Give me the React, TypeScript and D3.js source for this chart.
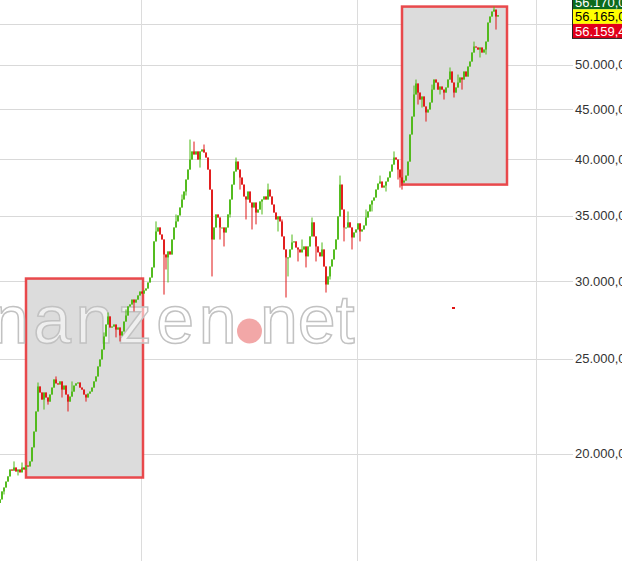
import React from "react";
import * as d3 from "d3";

// Daily closes, oldest first
const closes = [
  17950, 18290, 18460, 18720, 18950, 19260, 19210, 19350, 19170, 19260,
  19130, 19350, 19260, 19440, 19400, 19630, 20290, 21060, 22080, 23420,
  23090, 22710, 23090, 22820, 22600, 22980, 23360, 23810, 23590, 23530,
  23700, 23250, 23470, 22980, 22600, 22870, 23140, 23470, 23590, 23640,
  23360, 23250, 22980, 22820, 23030, 23140, 23360, 23700, 23980, 24550,
  24960, 25550, 26350, 27100, 27620, 26910, 26970, 27100, 26780, 26910,
  26410, 26660, 27290, 27680, 28280, 28410, 28740, 28540, 28740, 29020,
  29290, 29150, 29360, 29500, 29920, 30270, 31000, 32960, 33740, 34060,
  33500, 33110, 31960, 31740, 32190, 31960, 33110, 34060, 34550, 35040,
  35700, 36380, 37070, 38130, 39040, 39970, 40740, 40450, 40740, 39970,
  40740, 40930, 40640, 40160, 39040, 37240, 33110, 34060, 35120, 34870,
  34060, 34060, 33660, 34060, 35120, 36380, 37680, 38860, 39780, 39040,
  38310, 37680, 36640, 36380, 37070, 36120, 35700, 36120, 35280, 35530,
  36210, 36380, 36640, 36380, 37240, 36640, 35950, 35280, 34710, 34960,
  34550, 33350, 32340, 31740, 31740, 32340, 32880, 32960, 32490, 32340,
  32120, 32340, 32570, 31820, 32570, 33350, 34470, 33350, 32570, 32120,
  31820, 32340, 31070, 29780, 30350, 31070, 31590, 32340, 33110, 34960,
  37680, 35530, 34060, 34060, 34470, 34060, 33270, 33660, 33900, 34390,
  33740, 33900, 34220, 34870, 35370, 35950, 36290, 36550, 37240, 37770,
  37950, 37420, 37590, 37950, 38310, 38860, 39500, 40160, 39970, 39040,
  38310, 37860, 38040, 38490, 39780, 42400, 44230, 46590, 47810, 46800,
  46040, 46370, 45290, 44660, 44970, 45720, 47130, 48260, 47920, 47130,
  47470, 47130, 46800, 47360, 48260, 49180, 47920, 46800, 47360, 47920,
  48490, 48260, 49180, 48600, 49760, 50350, 51430, 52160, 52040, 51790,
  52040, 51430, 51790, 52770, 55190, 55980, 56640, 56900, 55980, 56159.4,
];
const firstOpen = 17800;

// Visible wick extremes: [candle index, price]
const highMarks: [number, number][] = [
  [7, 19630], [11, 19580], [19, 23640], [28, 23980], [36, 23700],
  [52, 26600], [54, 27880], [63, 28080], [78, 34550], [88, 35120],
  [91, 36810], [95, 41900], [97, 41700], [102, 41410], [118, 40160],
  [122, 37500], [134, 37770], [137, 35950], [141, 34710], [146, 33500],
  [151, 33110], [156, 34870], [161, 32880], [170, 38490], [174, 35370],
  [183, 35530], [190, 38490], [197, 40740], [207, 47580], [208, 48260],
  [216, 47690], [225, 49650], [229, 48830], [237, 52770], [247, 57310],
];
const lowMarks: [number, number][] = [
  [2, 18160], [9, 18990], [22, 22180], [24, 22440], [31, 22820],
  [34, 22080], [43, 22600], [58, 26290], [60, 26040], [67, 27950],
  [82, 29080], [83, 30850], [84, 29920], [93, 36720], [100, 39220],
  [106, 30350], [110, 33110], [112, 32570], [115, 34870], [120, 37240],
  [123, 34710], [126, 33900], [128, 34310], [131, 35120], [139, 33740],
  [143, 28880], [144, 30350], [149, 31440], [153, 31000], [158, 31440],
  [163, 29220], [165, 30130], [172, 32960], [176, 32340], [180, 32960],
  [186, 35370], [193, 37070], [199, 38130], [200, 37420], [201, 37240],
  [209, 45500], [211, 45180], [213, 43710], [220, 46590], [222, 46040],
  [227, 46260], [231, 47130], [240, 50830], [243, 51190], [248, 54290],
];

const gridValues = [20000, 25000, 30000, 35000, 40000, 45000, 50000, 55000];
const dateLines = [70.5, 178.5, 268];
const zoneFrom = [13, 201];
const zoneTo = [71.5, 253.5];
const zoneLow = [18900, 37680];
const zoneHigh = [30200, 57310];
const quoteValues = [56170, 56165, 56159.4];
const quoteColors = ["#0d6b1e", "#ffff00", "#e2001a"];
const quoteText = ["#ffffff", "#000000", "#ffffff"];

const W = 622;
const H = 561;

const de = d3.formatLocale({
  decimal: ",",
  thousands: ".",
  grouping: [3],
  currency: ["", ""],
});
const fmt = de.format(",.1f");

export default function App() {
  const x = d3.scaleLinear().domain([0, 249]).range([0, 498]);
  const y = d3.scaleLog().domain([20000, 50000]).range([453.5, 64.5]);

  const hiMap = new Map(highMarks);
  const loMap = new Map(lowMarks);
  const candles = closes.map((c, i) => {
    const o = i === 0 ? firstOpen : closes[i - 1];
    const hi = Math.max(o, c, hiMap.get(i) ?? 0);
    const lo = Math.min(o, c, loMap.get(i) ?? Infinity);
    return { i, o, c, hi, lo };
  });

  const green = "#4cb814";
  const red = "#e01414";
  const labelX = 575;
  const lastY = y(quoteValues[1]) + 1.5;
  const boxH = 14.5;

  return (
    <div style={{ position: "fixed", left: 0, top: 0, width: W, height: H }}>
      <svg width={W} height={H} style={{ display: "block", background: "#fff" }}
        fontFamily="'Liberation Sans', Arial, sans-serif">
        {/* grid */}
        {gridValues.map((v) => (
          <line key={v} x1={0} x2={573} y1={Math.round(y(v)) + 0.5} y2={Math.round(y(v)) + 0.5}
            stroke="#d9d9d9" strokeWidth={1} />
        ))}
        {dateLines.map((d) => (
          <line key={d} x1={Math.round(x(d)) + 0.5} x2={Math.round(x(d)) + 0.5} y1={0} y2={H}
            stroke="#dcdcdc" strokeWidth={1} />
        ))}
        {/* highlight zones */}
        {zoneFrom.map((f, k) => (
          <rect key={k} x={x(f)} y={y(zoneHigh[k])} width={x(zoneTo[k]) - x(f)}
            height={y(zoneLow[k]) - y(zoneHigh[k])} fill="#dcdcdc" stroke="#e8363a"
            strokeOpacity={0.9} strokeWidth={2.5} />
        ))}
        {/* watermark */}
        <g>
          <text x={241} y={343} textAnchor="end" fontSize={68} letterSpacing={4.5} fill="#ffffff" fillOpacity={0.55}
            stroke="#c2c2c2" strokeWidth={1.5}>finanzen</text>
          <circle cx={249.5} cy={331} r={12.5} fill="#ee8a8a" fillOpacity={0.75} />
          <text x={260} y={343} fontSize={68} fill="#ffffff" fillOpacity={0.55}
            stroke="#c2c2c2" strokeWidth={1.5}>net</text>
        </g>
        <rect x={452} y={307} width={3} height={2} fill="#e01414" />
        {/* candles */}
        {candles.map((d) => {
          const col = d.c >= d.o ? green : red;
          const cx = x(d.i);
          const top = y(Math.max(d.o, d.c));
          const bot = y(Math.min(d.o, d.c));
          return (
            <g key={d.i}>
              <line x1={cx} x2={cx} y1={y(d.hi)} y2={y(d.lo)} stroke={col} strokeWidth={1} />
              <rect x={cx - 0.9} y={top} width={1.8} height={Math.max(1, bot - top)} fill={col} />
            </g>
          );
        })}
        {/* y tick labels */}
        {gridValues.filter((v) => v < 55000).map((v) => (
          <text key={v} x={labelX} y={y(v)} dy="0.35em" fontSize={13} fill="#333">{fmt(v)}</text>
        ))}
        {/* quote boxes */}
        {quoteValues.map((v, k) => {
          const top = lastY - boxH / 2 + (k - 1) * boxH;
          return (
            <g key={k}>
              <rect x={572} y={top} width={60} height={boxH} fill={quoteColors[k]} />
              <text x={labelX} y={top + boxH / 2} dy="0.37em" fontSize={13} fill={quoteText[k]}>{fmt(v)}</text>
            </g>
          );
        })}
        <rect x={572.5} y={lastY - boxH * 1.5} width={60} height={boxH * 3} fill="none" stroke="#222" strokeWidth={1} />
      </svg>
    </div>
  );
}
